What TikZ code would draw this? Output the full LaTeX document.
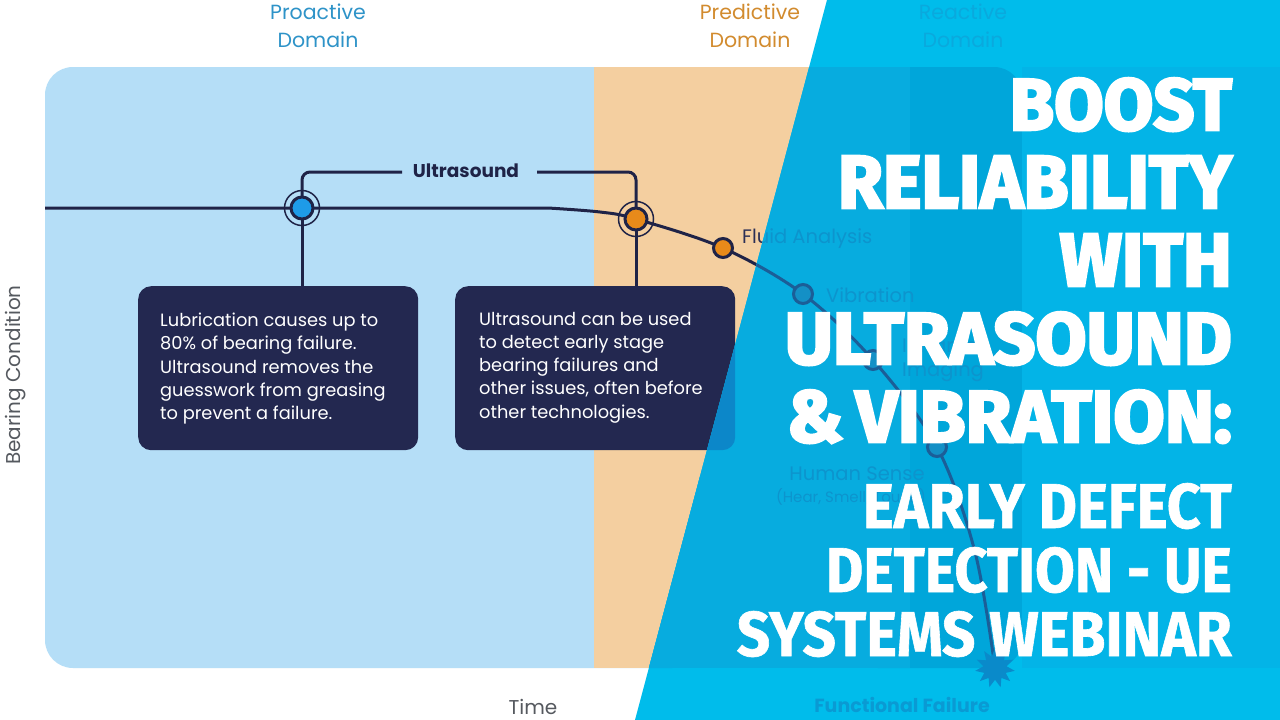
\documentclass[tikz,border=0pt]{standalone}
\usepackage{fontspec}
\usepackage{graphicx}
\usetikzlibrary{shapes.geometric}
\newfontfamily\dfont{Poppins}
\newfontfamily\tfontH{Fira Sans}[FakeBold=3.5]
\newfontfamily\tfontB{Fira Sans}[FakeBold=1]
% normal colours
\definecolor{cA}{HTML}{B5DEF7}
\definecolor{cB}{HTML}{F4CFA0}
\definecolor{cC}{HTML}{F2C4C4}
\definecolor{cS}{HTML}{FFFFFF}
\definecolor{cNavy}{HTML}{1F2347}
\definecolor{cBox}{HTML}{232850}
\definecolor{cBlue}{HTML}{1E9BE8}
\definecolor{cOrange}{HTML}{E88A1A}
\definecolor{cRed}{HTML}{D9453A}
\definecolor{cLab}{HTML}{2B2F55}
\definecolor{cPro}{HTML}{2E93C8}
\definecolor{cPre}{HTML}{D28B2E}
\definecolor{cRea}{HTML}{C0392B}
\definecolor{cGray}{HTML}{55595F}
\definecolor{cStar}{HTML}{1F2347}
\definecolor{cFF}{HTML}{1F2347}
\definecolor{cCyan}{HTML}{00BCEB}
% overlay colours
\definecolor{oB}{HTML}{07ACDF}
\definecolor{oC}{HTML}{00A6DA}
\definecolor{oS}{HTML}{03B4E7}
\definecolor{oNavy}{HTML}{1B5E98}
\definecolor{oBox}{HTML}{0C87C9}
\definecolor{oDot}{HTML}{1490C6}
\definecolor{oLab}{HTML}{0D94CD}
\definecolor{oRea}{HTML}{0AA9DD}
\definecolor{oFF}{HTML}{0A9AD3}
\definecolor{oStar}{HTML}{0A8ACA}

\newcommand\drawdiagram{%
\fill[cA, rounded corners=28pt] (45,67) rectangle (700,668);
\fill[cC, rounded corners=28pt] (850,67) rectangle (1022,668);
\fill[cB] (594,67) rectangle (910,668);
\fill[cS] (1022,67) rectangle (1280,668);
\node[domlab, text=cPro] (lpro) at (318,26) {Proactive\\Domain};
\node[domlab, text=cPre] (lpre) at (750,26) {Predictive\\Domain};
\node[domlab, text=cRea] (lrea) at (963,26) {Reactive\\Domain};
\node[boxst] (b1) at (138,286) {};
\node[boxst] (b2) at (455,286) {};
\coordinate (s) at (45,208);
\coordinate (k1) at (548,208);
\coordinate (k2) at (600,212);
\coordinate (p1) at (302,208);
\coordinate (p2) at (636,219);
\coordinate (p3) at (723,248);
\coordinate (p4) at (803,294);
\coordinate (p5) at (873,360);
\coordinate (p6) at (937,447);
\coordinate (k3) at (975,552);
\coordinate (p7) at (995,668);
\coordinate (ul) at (402,172);
\coordinate (ur) at (537,172);
\draw[navyline] (p1) -- (p1 |- b1.north);
\draw[navyline] (p2) -- (p2 |- b2.north);
\draw[navyline, rounded corners=8pt] (p1) |- (ul);
\draw[navyline, rounded corners=8pt] (ur) -| (p2);
\node[ustxt] (us) at (466,171) {Ultrasound};
\draw[navyline] (s) -- plot[smooth, tension=0.55] coordinates {(k1) (k2) (p2) (p3) (p4) (p5) (p6) (k3) (p7)};
\draw[ring] (p1) circle[radius=17.5pt];
\draw[ring] (p2) circle[radius=17.5pt];
\node[bigdot, fill=cBlue] (d1) at (p1) {};
\node[bigdot, fill=cOrange] (d2) at (p2) {};
\node[smalldot, fill=cOrange] (d3) at (p3) {};
\node[smalldot, fill=cRed] (d4) at (p4) {};
\node[smalldot, fill=cRed] (d5) at (p5) {};
\node[smalldot, fill=cRed] (d6) at (p6) {};
\node[starst] (ff) at (p7) {};
\node[boxtxt] (t1) at (160,313) {Lubrication causes up to\\80\% of bearing failure.\\Ultrasound removes the\\guesswork from greasing\\to prevent a failure.};
\node[boxtxt] (t2) at (479,312) {Ultrasound can be used\\to detect early stage\\bearing failures and\\other issues, often before\\other technologies.};
\node[stlab, anchor=base west] (lfa) at (742,243) {Fluid Analysis};
\node[stlab, anchor=base west] (lvi) at (826,302) {Vibration};
\node[stlab, anchor=base west] (lin) at (902,352) {Infrared};
\node[stlab, anchor=base west] (lim) at (902,376) {Imaging};
\node[stlab, anchor=base] (lhs) at (857,480) {Human Sense};
\node[stlab, anchor=base, font=\dfont\fontsize{15}{18}\selectfont] (lhs2) at (851,502) {(Hear, Smell, Touch)};
\node[fflab] (lff) at (902,712) {Functional Failure};
}

\begin{document}
\begin{tikzpicture}[x=1pt,y=-1pt,
  domlab/.style={align=center, inner sep=0pt, font=\dfont\fontsize{20.5}{28}\selectfont},
  boxst/.style={rectangle, anchor=north west, fill=cBox, minimum width=280pt, minimum height=164pt, rounded corners=13pt, inner sep=0pt},
  boxtxt/.style={anchor=north west, align=left, inner sep=0pt, text=white, font=\dfont\fontsize{17.8}{23.2}\selectfont},
  navyline/.style={draw=cNavy, line width=3pt},
  ring/.style={draw=cNavy, line width=1.5pt},
  bigdot/.style={circle, draw=cNavy, line width=3pt, minimum size=22pt, inner sep=0pt},
  smalldot/.style={circle, draw=cNavy, line width=3pt, minimum size=19pt, inner sep=0pt},
  starst/.style={star, star points=11, star point ratio=1.7, minimum size=40pt, fill=cStar, inner sep=0pt},
  ustxt/.style={inner sep=0pt, text=cNavy, font=\dfont\bfseries\fontsize{18.5}{22}\selectfont},
  stlab/.style={inner sep=0pt, text=cLab, font=\dfont\fontsize{19.5}{24}\selectfont},
  fflab/.style={anchor=base, inner sep=0pt, text=cFF, font=\dfont\bfseries\fontsize{19}{24}\selectfont},
  axlab/.style={inner sep=0pt, text=cGray, font=\dfont\fontsize{20}{24}\selectfont},
  tA/.style={anchor=base east, inner sep=0pt, text=white, font=\tfontH\bfseries\fontsize{70}{80}\selectfont},
  tB/.style={anchor=base east, inner sep=0pt, text=white, font=\tfontB\bfseries\fontsize{58}{66}\selectfont}
]
\useasboundingbox (0,0) rectangle (1280,720);
\fill[white] (0,0) rectangle (1280,720);
\drawdiagram
\node[axlab, rotate=90, anchor=base] (ybc) at (20,375) {Bearing Condition};
\node[axlab, anchor=base] (xt) at (533,714) {Time};
% overlay
\begin{scope}
\clip (827,0) -- (1280,0) -- (1280,720) -- (635,720) -- cycle;
\fill[cCyan] (0,0) rectangle (1280,720);
\colorlet{cA}{oB}\colorlet{cB}{oB}\colorlet{cC}{oC}\colorlet{cS}{oS}
\colorlet{cNavy}{oNavy}\colorlet{cBox}{oBox}\colorlet{cBlue}{oDot}
\colorlet{cOrange}{oDot}\colorlet{cRed}{oDot}\colorlet{cLab}{oLab}
\colorlet{cRea}{oRea}\colorlet{cStar}{oStar}\colorlet{cFF}{oFF}
\drawdiagram
\end{scope}
% title
\node[tA] (h1) at (1232,130) {\resizebox{222pt}{52pt}{BOOST}};
\node[tA] (h2) at (1232,208) {\resizebox{394pt}{52pt}{RELIABILITY}};
\node[tA] (h3) at (1232,286) {\resizebox{172pt}{52pt}{WITH}};
\node[tA] (h4) at (1232,364) {\resizebox{447pt}{52pt}{ULTRASOUND}};
\node[tA] (h5) at (1232,442) {\resizebox{445pt}{52pt}{\&\,VIBRATION:}};
\node[tB] (h6) at (1232,528) {\resizebox{369pt}{45pt}{EARLY DEFECT}};
\node[tB] (h7) at (1232,592) {\resizebox{406pt}{45pt}{DETECTION - UE}};
\node[tB] (h8) at (1232,656) {\resizebox{495pt}{45pt}{SYSTEMS WEBINAR}};
\end{tikzpicture}
\end{document}
